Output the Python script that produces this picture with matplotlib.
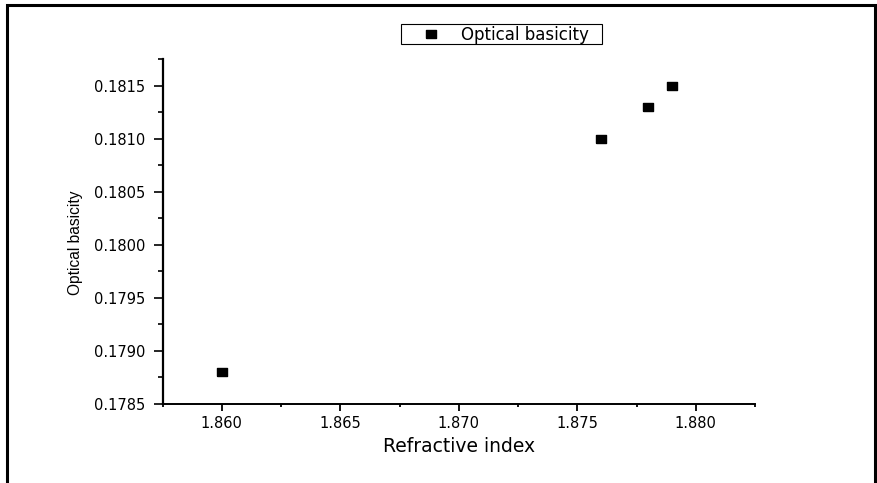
import matplotlib
matplotlib.use("Agg")
import matplotlib.pyplot as plt
from matplotlib.patches import Rectangle
from matplotlib.ticker import MultipleLocator, FormatStrFormatter

# data
refractive_index = [1.860, 1.876, 1.878, 1.879]
optical_basicity = [0.1788, 0.1810, 0.1813, 0.1815]

W, H = 877, 483
dpi = 100

# the original looks horizontally stretched, DejaVu is the wider sans
plt.rcParams['font.family'] = ['DejaVu Sans']

fig = plt.figure(figsize=(W / dpi, H / dpi), dpi=dpi)

# axes box in pixels (left spine x=162.5, right end 755, top 59, bottom 404)
L, R, T, B = 162.5, 755, 59, 404
ax = fig.add_axes([L / W, (H - B) / H, (R - L) / W, (B - T) / H])

# slightly wide square markers, like the original
rect_marker = [(-1.25, -1), (1.25, -1), (1.25, 1), (-1.25, 1), (-1.25, -1)]
ax.plot(refractive_index, optical_basicity, linestyle='none', marker=rect_marker,
        markersize=7.2, color='black', label='Optical basicity')

ax.set_xlim(1.8575, 1.8825)
ax.set_ylim(0.1785, 0.18175)

ax.xaxis.set_major_locator(MultipleLocator(0.005))
ax.xaxis.set_minor_locator(MultipleLocator(0.0025))
ax.yaxis.set_major_locator(MultipleLocator(0.0005))
ax.yaxis.set_minor_locator(MultipleLocator(0.00025))
ax.xaxis.set_major_formatter(FormatStrFormatter('%.3f'))
ax.yaxis.set_major_formatter(FormatStrFormatter('%.4f'))

for side in ('top', 'right'):
    ax.spines[side].set_visible(False)
ax.spines['left'].set_linewidth(1.6)
ax.spines['bottom'].set_linewidth(1.4)

ax.tick_params(axis='x', which='major', direction='out', length=4.7, width=1.3, labelsize=10.5, pad=3.6)
ax.tick_params(axis='x', which='minor', direction='out', length=2.5, width=1.3)
ax.tick_params(axis='y', which='major', direction='out', length=6.8, width=1.2, labelsize=10.5, pad=5.5)
ax.tick_params(axis='y', which='minor', direction='out', length=3.6, width=1.2)

ax.set_xlabel('Refractive index', fontsize=13.5)
ax.xaxis.set_label_coords(0.5, (B - 437) / (B - T))

# the y label looks condensed in the original: narrower Arial-like face
ax.set_ylabel('Optical basicity', fontsize=11.2, family=['Liberation Sans', 'DejaVu Sans'])
ax.yaxis.set_label_coords((83 - L) / (R - L), (B - 242.5) / (B - T))

# legend without its own frame; the box is drawn below at the original's size
leg = ax.legend(loc='upper left', bbox_to_anchor=((401 - L) / (R - L), 1 + (T - 22) / (B - T)),
                frameon=False, fontsize=12,
                handlelength=3.2, handletextpad=0.2, borderpad=0.22, borderaxespad=0)
fig.patches.append(Rectangle((401 / W, (H - 44) / H), 201 / W, 20 / H,
                             transform=fig.transFigure, fill=False,
                             edgecolor='black', linewidth=0.8))

# outer black frame around the whole figure, bottom edge runs off the picture
fig.patches.append(Rectangle((6.5 / W, -0.05), (875 - 6.5) / W, (H - 4.5) / H + 0.05,
                             transform=fig.transFigure, fill=False,
                             edgecolor='black', linewidth=2.2))

fig.savefig('out.png', dpi=dpi)
